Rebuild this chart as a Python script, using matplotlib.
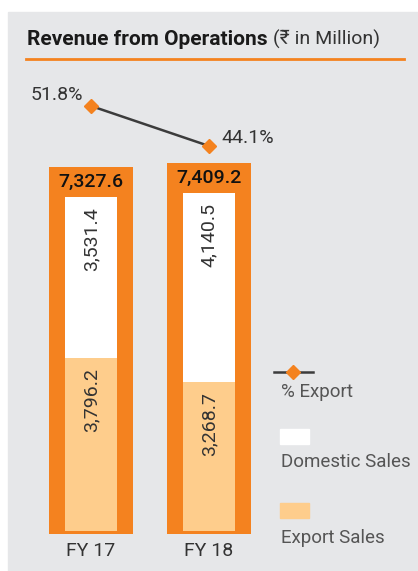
import matplotlib.pyplot as plt
from matplotlib.patches import Rectangle
from matplotlib.lines import Line2D

plt.rcParams['font.family'] = ['Roboto', 'DejaVu Sans']

years = ['FY 17', 'FY 18']
export_sales = [3796.2, 3268.7]
domestic_sales = [3531.4, 4140.5]
totals = [7327.6, 7409.2]
pct_export = [51.8, 44.1]

orange = '#F4821F'
peach = '#FECD8C'
panel = '#E6E7E9'
txt = '#333333'

W, H = 418, 571
fig = plt.figure(figsize=(W / 100, H / 100), dpi=100)


def fx(x):
    return x / W


def fy(y):
    return 1 - y / H


# grey panel
fig.add_artist(Rectangle((fx(8), 0), fx(410), (H - 12) / H,
                         transform=fig.transFigure, color=panel, zorder=0))

ax = fig.add_axes([fx(20), fy(540), fx(250), (540 - 80) / H])
ax.set_xlim(-0.602, 1.517)
ax.set_ylim(-197, 9890)
ax.axis('off')

# title + rule
t = fig.text(fx(27), fy(45), 'Revenue from Operations', fontsize=15,
             fontweight='bold', color='#1a1a1a', va='baseline')
ax.annotate('(\u20b9 in Million)', xy=(1, 0), xycoords=t,
            xytext=(5, 0), textcoords='offset pixels',
            fontsize=14, color=txt, va='bottom', ha='left',
            annotation_clip=False)
fig.add_artist(Line2D([fx(26), fx(404)], [fy(59), fy(59)], lw=2,
                      color=orange, transform=fig.transFigure))

x = list(range(len(years)))
pad = 660
ax.bar(x, [v + pad + 60 for v in totals], bottom=-60, width=0.71,
       color=orange, zorder=1)
ax.bar(x, export_sales, width=0.44, color=peach, zorder=2)
ax.bar(x, domestic_sales, bottom=export_sales, width=0.44, color='white',
       zorder=2)

for i in x:
    ax.text(i, totals[i] + pad / 2, f'{totals[i]:,.1f}', ha='center',
            va='center', fontsize=14, fontweight='medium', color='#111111',
            zorder=3)
    ax.annotate(f'{domestic_sales[i]:,.1f}', xy=(i, totals[i]),
                xytext=(0, -10), textcoords='offset pixels', rotation=90,
                ha='center', va='top', fontsize=14, color=txt, zorder=3)
    ax.annotate(f'{export_sales[i]:,.1f}', xy=(i, export_sales[i]),
                xytext=(0, -10), textcoords='offset pixels', rotation=90,
                ha='center', va='top', fontsize=14, color=txt, zorder=3)
    ax.annotate(years[i], xy=(i, -60), xytext=(0, -8),
                textcoords='offset pixels', ha='center', va='top',
                fontsize=14, color=txt, annotation_clip=False)

ax2 = ax.twinx()
ax2.set_ylim(-31.74, 56.80)
ax2.axis('off')
ax2.plot(x, pct_export, color='#3c3c3c', lw=1.8, marker='D', ms=7.5,
         mfc=orange, mec=orange, zorder=4)
ax2.annotate(f'{pct_export[0]}%', xy=(0, pct_export[0]), xytext=(-8, 11),
             textcoords='offset pixels', ha='right', va='center',
             fontsize=14, color=txt)
ax2.annotate(f'{pct_export[1]}%', xy=(1, pct_export[1]), xytext=(12, 8),
             textcoords='offset pixels', ha='left', va='center',
             fontsize=14, color=txt)

# legend
fig.add_artist(Line2D([fx(274), fx(313)], [fy(372), fy(372)], lw=1.8,
                      color='#3c3c3c', transform=fig.transFigure))
fig.add_artist(Line2D([fx(293)], [fy(372)], marker='D', ms=7, mfc=orange,
                      mec=orange, transform=fig.transFigure))
fig.text(fx(281), fy(392), '% Export', fontsize=13.5, color='#555555',
         va='center')
fig.add_artist(Rectangle((fx(280), fy(444)), fx(29), 15 / H, color='white',
                         transform=fig.transFigure))
fig.text(fx(281), fy(462), 'Domestic Sales', fontsize=13.5, color='#555555',
         va='center')
fig.add_artist(Rectangle((fx(280), fy(518)), fx(29), 15 / H, color=peach,
                         transform=fig.transFigure))
fig.text(fx(281), fy(538), 'Export Sales', fontsize=13.5, color='#555555',
         va='center')

fig.savefig('out.png', dpi=100)
